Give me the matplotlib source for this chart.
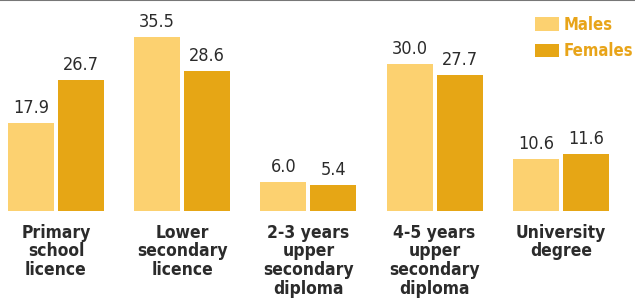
import numpy as np
from matplotlib import pyplot as plt

categories = ["Primary\nschool\nlicence", "Lower\nsecondary\nlicence",
              "2-3 years\nupper\nsecondary\ndiploma", "4-5 years\nupper\nsecondary\ndiploma",
              "University\ndegree"]
males = [17.9, 35.5, 6.0, 30.0, 10.6]
females = [26.7, 28.6, 5.4, 27.7, 11.6]

plt.rcParams['font.family'] = ['DejaVu Sans']
plt.rcParams['font.stretch'] = 'condensed'

c_m = "#FCD170"
c_f = "#E6A615"
txt = "#2b2b2b"

fig = plt.figure(figsize=(6.35, 3.04), dpi=100)
ax = fig.add_axes([0, (304 - 211) / 304, 1, 211 / 304])

x = np.arange(len(categories))
w = 0.365
off = 0.198
ax.bar(x - off, males, w, color=c_m, label="Males")
ax.bar(x + off, females, w, color=c_f, label="Females")

for xi, v in zip(x, males):
    ax.text(xi - off, v + 1.2, "{:.1f}".format(v), ha="center", va="bottom",
            fontsize=13, color=txt, fontstretch="condensed")
for xi, v in zip(x, females):
    ax.text(xi + off, v + 1.2, "{:.1f}".format(v), ha="center", va="bottom",
            fontsize=13, color=txt, fontstretch="condensed")

ax.set_xlim(-56 / 126.2, (635 - 56) / 126.2)
ax.set_ylim(0, 43.06)
ax.set_xticks(x)
ax.set_xticklabels(categories, fontsize=12.5, fontweight="bold", color=txt,
                   linespacing=1.05, fontstretch="condensed")
ax.tick_params(axis="x", length=0, pad=9)
ax.set_yticks([])
for s in ["left", "right", "bottom"]:
    ax.spines[s].set_visible(False)
ax.spines["top"].set_color("#777777")
ax.spines["top"].set_linewidth(1.5)

leg = ax.legend(loc="upper left", bbox_to_anchor=(535 / 635, 0.925), frameon=False,
                prop={"size": 12, "weight": "bold", "stretch": "condensed"},
                handlelength=1.45, handleheight=0.85,
                handletextpad=0.25, labelspacing=0.5, borderaxespad=0, borderpad=0)
for t in leg.get_texts():
    t.set_color("#E8A419")

fig.savefig("out.png", dpi=100)
